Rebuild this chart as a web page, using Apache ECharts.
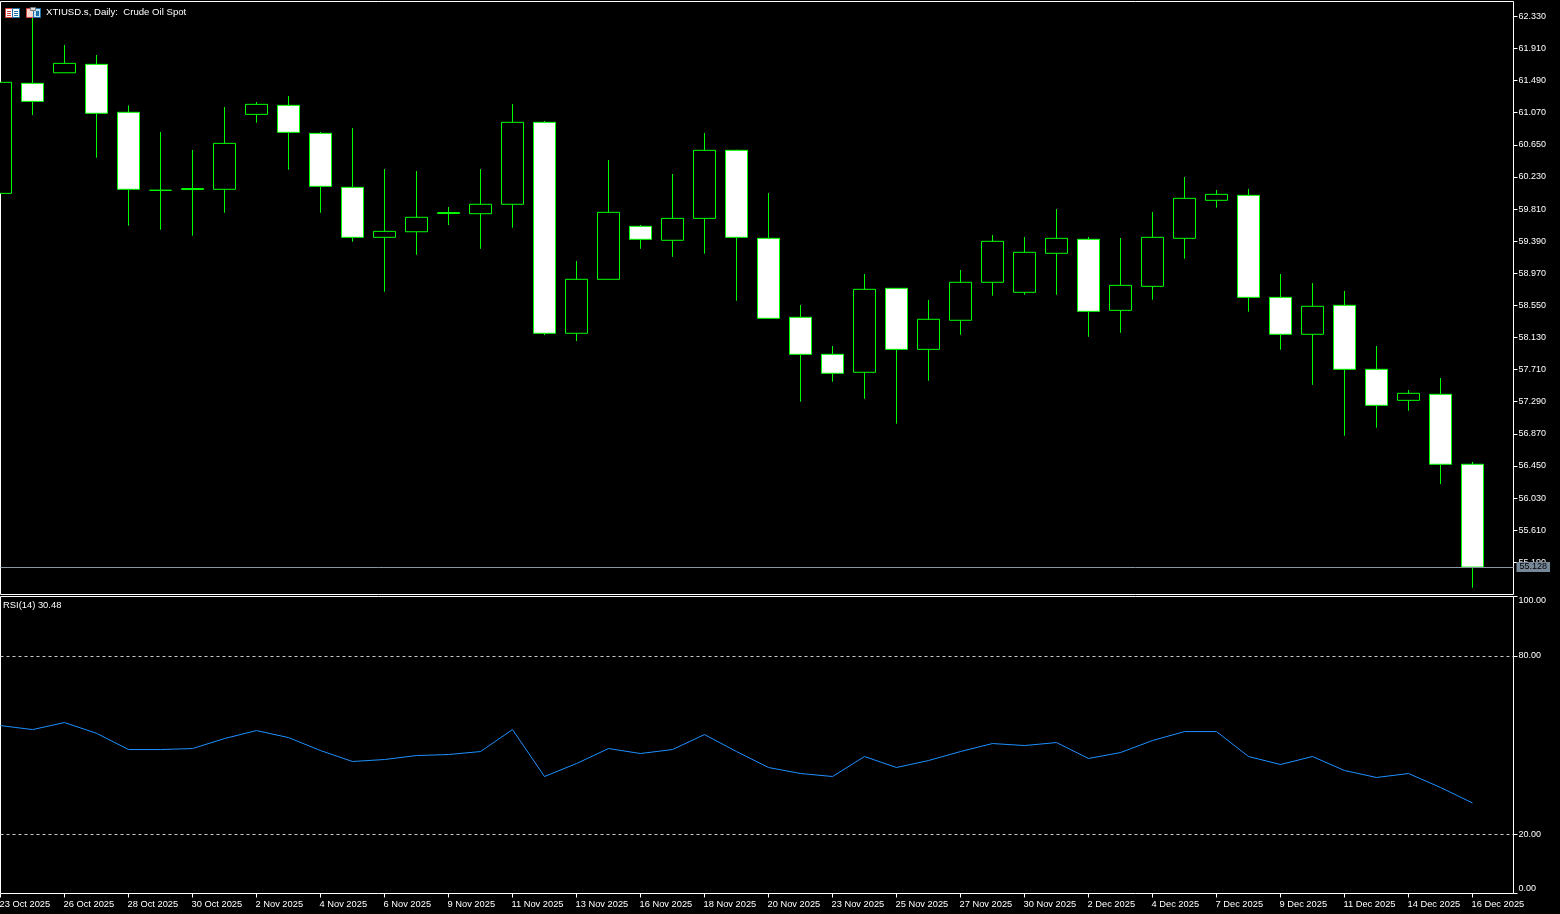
<!DOCTYPE html>
<html><head><meta charset="utf-8">
<style>html,body{margin:0;padding:0;background:#000}#c{width:1560px;height:914px}</style>
<script src="https://cdn.jsdelivr.net/npm/echarts@6/dist/echarts.min.js"></script>
</head><body><div id="c"></div>
<script>
const dateLabels = ['23 Oct 2025','26 Oct 2025','28 Oct 2025','30 Oct 2025','2 Nov 2025','4 Nov 2025','6 Nov 2025','9 Nov 2025','11 Nov 2025','13 Nov 2025','16 Nov 2025','18 Nov 2025','20 Nov 2025','23 Nov 2025','25 Nov 2025','27 Nov 2025','30 Nov 2025','2 Dec 2025','4 Dec 2025','7 Dec 2025','9 Dec 2025','11 Dec 2025','14 Dec 2025','16 Dec 2025'];
const priceTicks = [62.33,61.91,61.49,61.07,60.65,60.23,59.81,59.39,58.97,58.55,58.13,57.71,57.29,56.87,56.45,56.03,55.61,55.19];
const rsiTicks = [0,20,80,100];
const rsiLevels = [20,80];
const lastPrice = 55.128;
const open = [60.015,61.454,61.592,61.702,61.075,60.055,60.065,60.068,61.048,61.166,60.800,60.094,59.440,59.513,59.751,59.749,59.872,60.944,58.185,58.891,59.584,59.401,59.688,60.578,59.427,58.394,57.910,57.675,58.773,57.975,58.355,58.852,58.721,59.231,59.414,58.485,58.799,59.427,59.924,59.989,58.655,58.172,58.551,57.714,57.308,57.387,56.472];
const close = [61.467,61.218,61.715,61.062,60.068,60.055,60.078,60.669,61.179,60.813,60.107,59.440,59.518,59.702,59.764,59.872,60.944,58.185,58.891,59.767,59.414,59.688,60.578,59.440,58.381,57.910,57.662,58.760,57.975,58.368,58.852,59.388,59.244,59.427,58.472,58.812,59.440,59.950,60.002,58.655,58.172,58.538,57.714,57.243,57.400,56.472,55.128];
const low = [60.015,61.039,61.592,60.481,59.592,59.539,59.461,59.762,60.939,60.324,59.762,59.382,58.729,59.212,59.601,59.291,59.566,58.162,58.084,58.891,59.291,59.186,59.226,58.611,58.375,57.290,57.552,57.329,57.002,57.565,58.166,58.676,58.689,58.689,58.140,58.192,58.624,59.160,59.827,58.467,57.970,57.512,56.845,56.950,57.172,56.214,54.858];
const high = [61.467,62.386,61.955,61.824,61.166,60.817,60.582,61.144,61.209,61.288,60.817,60.869,60.333,60.307,59.836,60.333,61.183,60.961,59.130,60.451,59.601,60.268,60.804,60.585,60.019,58.555,58.019,58.960,58.777,58.620,59.012,59.470,59.444,59.810,59.444,59.431,59.771,60.229,60.059,60.072,58.960,58.842,58.738,58.019,57.443,57.600,56.502];
const rsi = [56.54,55.19,57.55,53.95,48.47,48.47,48.81,52.17,54.86,52.50,48.13,44.44,45.11,46.45,46.79,47.80,55.19,39.39,43.76,48.81,47.13,48.47,53.51,47.80,42.42,40.40,39.39,46.12,42.42,44.77,47.80,50.49,49.82,50.82,45.45,47.46,51.50,54.52,54.52,46.12,43.43,46.12,41.41,39.06,40.40,35.70,30.48];

const FONT = 'Liberation Sans';
const FS = 9;
const candleData = open.map((o,i)=>[i,o,close[i],low[i],high[i]]);
const rsiData = rsi.map((v,i)=>[i,v]);
const labelBars = dateLabels.map((_,i)=>i*2);

const chart = echarts.init(document.getElementById('c'), null, {renderer:'canvas'});
const r = (x,y,w,h,fill,stroke) => ({type:'rect',shape:{x,y,width:w,height:h},style:{fill:fill,stroke:stroke||null,lineWidth:1},z:50});
chart.setOption({
  animation:false,
  backgroundColor:'#000',
  title:[
    {text:'XTIUSD.s, Daily:  Crude Oil Spot',left:46,top:7.5,padding:0,textStyle:{color:'#fff',fontFamily:FONT,fontSize:9.6,fontWeight:'normal'}},
    {text:'RSI(14) 30.48',left:3,top:600.5,padding:0,textStyle:{color:'#fff',fontFamily:FONT,fontSize:9.4,fontWeight:'normal'}}
  ],
  grid:[
    {left:0.5,top:1.5,width:1513,height:593,outerBoundsMode:'none',show:true,backgroundColor:'#000',borderColor:'#fff',borderWidth:1},
    {left:0.5,top:596.5,width:1513,height:297,outerBoundsMode:'none',show:true,backgroundColor:'#000',borderColor:'#fff',borderWidth:1}
  ],
  xAxis:[
    {type:'value',gridIndex:0,min:0,max:1513/32,show:false,splitLine:{show:false},axisLine:{onZero:false}},
    {type:'value',gridIndex:1,position:'bottom',min:0,max:1513/32,splitLine:{show:false},axisLine:{show:false,onZero:false},
     axisTick:{show:true,length:4,customValues:labelBars,lineStyle:{color:'#fff'}},
     axisLabel:{show:true,customValues:labelBars,margin:6,align:'left',padding:[0,0,0,-1],color:'#fff',fontFamily:FONT,fontSize:9.3,
       formatter:v=>dateLabels[Math.round(v/2)]||''}}
  ],
  yAxis:[
    {type:'value',gridIndex:0,position:'right',min:54.769,max:62.524,splitLine:{show:false},axisLine:{show:false,onZero:false},
     axisTick:{show:true,length:4,customValues:priceTicks,lineStyle:{color:'#fff'}},
     axisLabel:{show:true,customValues:priceTicks,margin:5,color:'#fff',fontFamily:FONT,fontSize:FS,formatter:v=>v.toFixed(3)}},
    {type:'value',gridIndex:1,position:'right',min:0,max:100,splitLine:{show:false},axisLine:{show:false,onZero:false},
     axisTick:{show:true,length:4,customValues:rsiTicks,lineStyle:{color:'#fff'}},
     axisLabel:{show:true,customValues:rsiTicks,margin:5,color:'#fff',fontFamily:FONT,fontSize:FS,verticalAlignMinLabel:'bottom',verticalAlignMaxLabel:'top',formatter:v=>v.toFixed(2)}}
  ],
  series:[
    {type:'candlestick',name:'XTIUSD.s',xAxisIndex:0,yAxisIndex:0,barWidth:22,data:candleData,encode:{x:0,y:[1,2,3,4]},
     itemStyle:{color:'#000',color0:'#fff',borderColor:'#00ff00',borderColor0:'#00ff00',borderColorDoji:'#00ff00',borderWidth:1},
     markLine:{silent:true,symbol:'none',animation:false,
       lineStyle:{color:'#8b96a1',type:'solid',width:1},
       label:{show:true,position:'end',distance:3,formatter:()=>lastPrice.toFixed(3),color:'#000',backgroundColor:'#778899',padding:[1,3,0,3],fontFamily:FONT,fontSize:FS},
       data:[{yAxis:lastPrice}]}},
    {type:'line',name:'RSI(14)',xAxisIndex:1,yAxisIndex:1,data:rsiData,showSymbol:false,symbol:'none',lineStyle:{color:'#1e90ff',width:1},
     markLine:{silent:true,symbol:'none',animation:false,label:{show:false},lineStyle:{color:'#c8c8c8',type:[3,3],width:1},
       data:rsiLevels.map(v=>({yAxis:v}))}}
  ],
  graphic:[
    r(5.5,8.5,7,9,'#fff','#d8423a'), r(12.5,8.5,7,9,'#fff','#1f6fa8'),
    r(7,11,4,1,'#d8423a'), r(7,13,4,1,'#d8423a'), r(7,15,4,1,'#d8423a'),
    r(14,11,4,1,'#1f6fa8'), r(14,13,4,1,'#1f6fa8'), r(14,15,4,1,'#1f6fa8'),
    r(26.5,8.5,7,9,'#fbd5cf','#d8423a'), r(33.5,8.5,7,9,'#bfe0f5','#1f6fa8'),
    r(30.5,7.5,5,3,'#ddd','#777'), r(36,11,3,5,'#1f6fa8')
  ]
});
</script></body></html>
